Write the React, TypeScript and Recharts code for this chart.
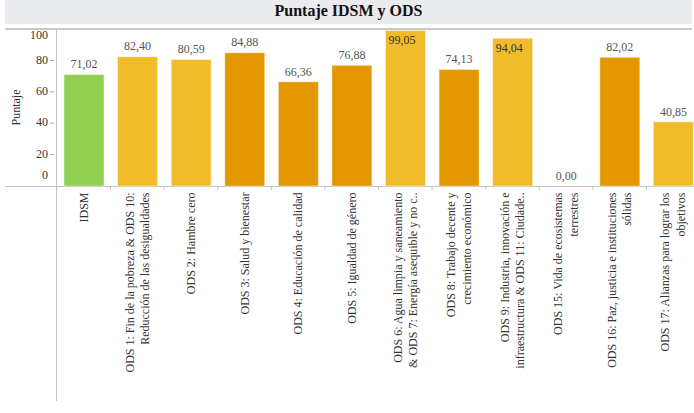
import { Bar, BarChart, Cell, LabelList, XAxis, YAxis } from "recharts";

const categories = [
  "IDSM",
  "ODS 1 & 10",
  "ODS 2",
  "ODS 3",
  "ODS 4",
  "ODS 5",
  "ODS 6 & 7",
  "ODS 8",
  "ODS 9 & 11",
  "ODS 15",
  "ODS 16",
  "ODS 17",
];

const scores = [71.02, 82.4, 80.59, 84.88, 66.36, 76.88, 99.05, 74.13, 94.04, 0, 82.02, 40.85];

const tickLabels: string[][] = [
  ["IDSM"],
  ["ODS 1: Fin de la pobreza & ODS 10:", "Reducción de las desigualdades"],
  ["ODS 2: Hambre cero"],
  ["ODS 3: Salud y bienestar"],
  ["ODS 4: Educación de calidad"],
  ["ODS 5: Igualdad de género"],
  ["ODS 6: Agua limpia y saneamiento", "& ODS 7: Energía asequible y no c.."],
  ["ODS 8: Trabajo decente y", "crecimiento económico"],
  ["ODS 9: Industria, innovación e", "infraestructura & ODS 11: Ciudade.."],
  ["ODS 15: Vida de ecosistemas", "terrestres"],
  ["ODS 16: Paz, justicia e instituciones", "sólidas"],
  ["ODS 17: Alianzas para lograr los", "objetivos"],
];

const yTicks = [0, 20, 40, 60, 80, 100];

// colour group per bar: 0 = índice, 1 = claro, 2 = oscuro
const colorGroup = [0, 1, 1, 2, 2, 2, 1, 2, 1, 1, 2, 1];
const palette = ["#92d050", "#f0bc2a", "#e39800"];

const data = categories.map((name, i) => ({ name, value: scores[i] }));

const FONT = "Liberation Serif";
const CHART_W = 700;
const PLOT_LEFT = 57;
const PLOT_TOP = 29;
const BAND = (CHART_W - PLOT_LEFT) / categories.length;

const fmt = (v: number) => v.toFixed(2).replace(".", ",");

function XTick(props: any) {
  const { x, y, index } = props;
  const lines = tickLabels[index] || [];
  const half = BAND / 2;
  const y0 = y + 6.5;
  const lh = 15.5;
  return (
    <g>
      <line x1={x - half} x2={x - half} y1={y} y2={y + 4} stroke="#c4c4c4" />
      {index === categories.length - 1 && (
        <line x1={x + half} x2={x + half} y1={y} y2={y + 4} stroke="#c4c4c4" />
      )}
      <text
        transform={`rotate(-90, ${x}, ${y0})`}
        textAnchor="end"
        fontSize={12}
        fontFamily={FONT}
        fill="#333"
      >
        {lines.map((l, i) => (
          <tspan key={i} x={x} y={y0 + 4 + (i - (lines.length - 1) / 2) * lh}>
            {l}
          </tspan>
        ))}
      </text>
    </g>
  );
}

function YTick(props: any) {
  const { x, y, payload } = props;
  const v = payload.value;
  let ty = y - 1;
  if (v === 0) ty = y - 11.5;
  if (v === 100) ty = y + 6;
  return (
    <g>
      <text x={x - 9} y={ty} dy="0.35em" textAnchor="end" fontSize={12} fontFamily={FONT} fill="#333">
        {v}
      </text>
      {v !== 0 && v !== 100 && <line x1={x - 7} x2={x - 3} y1={y} y2={y} stroke="#aaa" />}
    </g>
  );
}

function ValueLabel(props: any) {
  const { x, y, width, value } = props;
  if (y - 17 < PLOT_TOP) {
    return (
      <text x={x + 3} y={y + 9} dy="0.35em" textAnchor="start" fontSize={12} fontFamily={FONT} fill="#333">
        {fmt(value)}
      </text>
    );
  }
  return (
    <text x={x + width / 2} y={y - 10.5} dy="0.35em" textAnchor="middle" fontSize={12} fontFamily={FONT} fill="#555">
      {fmt(value)}
    </text>
  );
}

export default function App() {
  return (
    <div
      style={{
        position: "absolute",
        left: 0,
        top: 0,
        width: 694,
        height: 413,
        overflow: "hidden",
        background: "#fff",
        fontFamily: FONT,
      }}
    >
      <div
        style={{
          position: "absolute",
          left: 5,
          top: 0,
          width: 687,
          height: 24,
          background: "#e9ebef",
          textAlign: "center",
          fontWeight: "bold",
          fontSize: 16,
          lineHeight: "22px",
          color: "#111",
        }}
      >
        Puntaje IDSM y ODS
      </div>
      <div style={{ position: "absolute", left: 5, top: 28, width: 687, height: 2, background: "#c8c8c8" }} />
      <div style={{ position: "absolute", left: 5, top: 186, width: 689, height: 1, background: "#c4c4c4" }} />
      <div style={{ position: "absolute", left: 56, top: 29, width: 1, height: 372, background: "#c4c4c4" }} />
      <div style={{ position: "absolute", left: 0, top: 0 }}>
        <BarChart
          width={CHART_W}
          height={413}
          data={data}
          margin={{ top: PLOT_TOP, right: 0, bottom: 0, left: 0 }}
        >
          <XAxis
            dataKey="name"
            interval={0}
            height={227}
            axisLine={false}
            tickLine={false}
            tickSize={0}
            tickMargin={0}
            tick={<XTick />}
          />
          <YAxis
            width={PLOT_LEFT}
            domain={[0, 100]}
            ticks={yTicks}
            axisLine={false}
            tickLine={false}
            tickSize={0}
            tickMargin={0}
            tick={<YTick />}
            label={{
              value: "Puntaje",
              angle: -90,
              position: "insideLeft",
              offset: 16,
              style: { fontSize: 12, fontFamily: FONT, fill: "#333", textAnchor: "middle" },
            }}
          />
          <Bar
            dataKey="value"
            barSize={40}
            minPointSize={0.01}
            isAnimationActive={false}
            stroke="#fff"
            strokeOpacity={0.45}
          >
            {data.map((d, i) => (
              <Cell key={i} fill={palette[colorGroup[i]]} stroke={d.value === 0 ? "none" : "#fff"} />
            ))}
            <LabelList dataKey="value" content={<ValueLabel />} />
          </Bar>
        </BarChart>
      </div>
    </div>
  );
}
